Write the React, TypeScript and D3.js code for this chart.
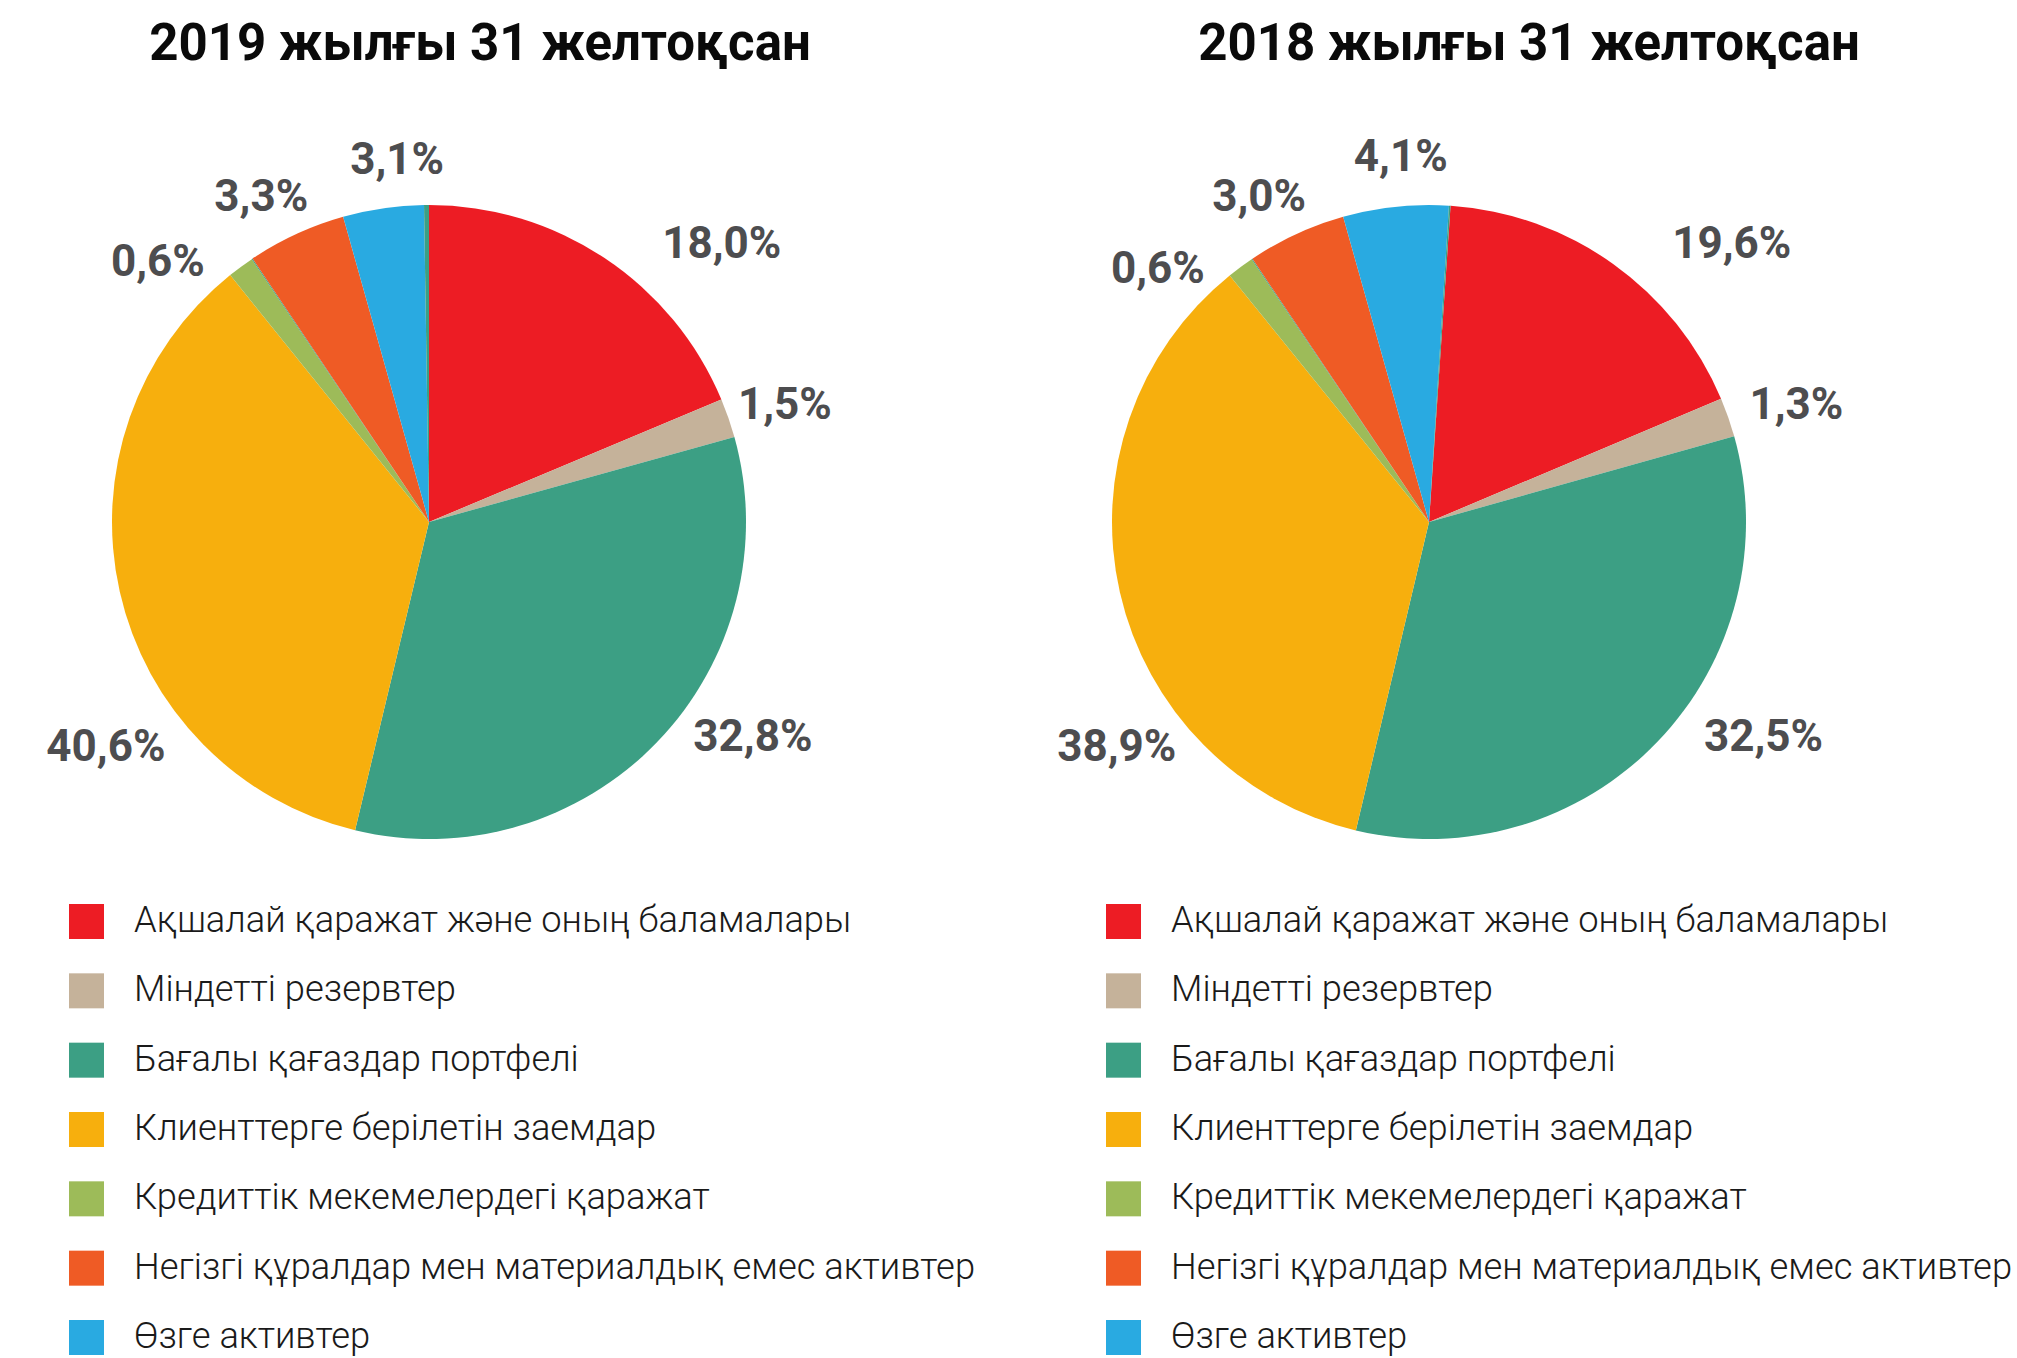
import React from "react";
import * as d3 from "d3";

// ---- Data ----
const categories = [
  "Ақшалай қаражат және оның баламалары",
  "Міндетті резервтер",
  "Бағалы қағаздар портфелі",
  "Клиенттерге берілетін заемдар",
  "Кредиттік мекемелердегі қаражат",
  "Негізгі құралдар мен материалдық емес активтер",
  "Өзге активтер",
];
const categoryColors = ["#ed1c24", "#c5b29a", "#3c9f84", "#f7af0d", "#9dbb59", "#ef5b25", "#29aae1"];
const extraColor = "#3c9f84";

// slice order around the pie (null = thin unlabeled sliver)
const sliceCategory = [0, 1, 2, 3, 4, null, 5, 6, null];

// drawn shares (%)
const values2019 = [18.7, 2.0, 33.1, 35.5, 1.35, 0.05, 5.03, 4.12, 0.25];
const values2018 = [17.57, 2.0, 33.08, 35.49, 1.37, 0.05, 5.04, 5.37, 0.08];

// printed labels per category
const labels2019 = ["18,0%", "1,5%", "32,8%", "40,6%", "0,6%", "3,3%", "3,1%"];
const labels2018 = ["19,6%", "1,3%", "32,5%", "38,9%", "0,6%", "3,0%", "4,1%"];

const titles = ["2019 жылғы 31 желтоқсан", "2018 жылғы 31 желтоқсан"];

// ---- Layout ----
const W = 2017;
const H = 1358;
const R = 317;
const layout = [
  {
    cx: 429, cy: 522, titleX: 480, legendX: 69, startDeg: 0,
    labelPlace: [[46.3, 405], [71.6, 375], [123.4, 388], [235.3, 393], [314, 377], [332.8, 367], [355, 365]],
  },
  {
    cx: 1429, cy: 522, titleX: 1529, legendX: 1106, startDeg: 3.9,
    labelPlace: [[47.3, 412], [72.1, 386], [122.6, 397], [234.4, 384], [313.2, 372], [332.5, 368], [355.6, 368]],
  },
];
const seriesValues = [values2019, values2018];
const seriesLabels = [labels2019, labels2018];

const legendRow = d3.scaleLinear().domain([0, 6]).range([921.5, 1337.5]);

function Panel({ idx }: { idx: number }) {
  const L = layout[idx];
  const values = seriesValues[idx];
  const labels = seriesLabels[idx];
  const start = (L.startDeg * Math.PI) / 180;
  const pie = d3
    .pie<number>()
    .sort(null)
    .value((d) => d)
    .startAngle(start)
    .endAngle(start + 2 * Math.PI);
  const arcs = pie(values);
  const arc = d3.arc<d3.PieArcDatum<number>>().innerRadius(0).outerRadius(R);
  return (
    <g>
      <text
        x={L.titleX}
        y={60}
        textAnchor="middle"
        fontFamily="Roboto, 'Noto Sans', sans-serif"
        fontWeight={700}
        fontSize={51}
        fill="#0a0a0a"
      >
        {titles[idx]}
      </text>
      <g transform={`translate(${L.cx},${L.cy})`}>
        {arcs.map((a, i) => {
          const c = sliceCategory[i];
          return (
            <path key={i} d={arc(a) || ""} fill={c === null ? extraColor : categoryColors[c]} />
          );
        })}
        {labels.map((lab, i) => {
          const [deg, r] = L.labelPlace[i];
          const t = (deg * Math.PI) / 180;
          const x = r * Math.sin(t);
          const y = -r * Math.cos(t);
          return (
            <text
              key={i}
              x={x}
              y={y + 15.5}
              textAnchor="middle"
              fontFamily="Roboto, 'Noto Sans', sans-serif"
              fontWeight={700}
              fontSize={44}
              fill="#4d4d4f"
            >
              {lab}
            </text>
          );
        })}
      </g>
      {categories.map((cat, i) => {
        const yc = legendRow(i);
        return (
          <g key={i}>
            <rect x={L.legendX} y={yc - 17.5} width={35} height={35} fill={categoryColors[i]} />
            <text
              x={L.legendX + 65}
              y={yc + 10.5}
              fontFamily="Roboto, 'Noto Sans', sans-serif"
              fontWeight={300}
              fontSize={36.3}
              fill="#1a1a1a"
            >
              {cat}
            </text>
          </g>
        );
      })}
    </g>
  );
}

export default function App() {
  return (
    <svg
      width={W}
      height={H}
      viewBox={`0 0 ${W} ${H}`}
      style={{ position: "absolute", left: 0, top: 0, display: "block", background: "#fff" }}
    >
      <rect width={W} height={H} fill="#fff" />
      <Panel idx={0} />
      <Panel idx={1} />
    </svg>
  );
}
